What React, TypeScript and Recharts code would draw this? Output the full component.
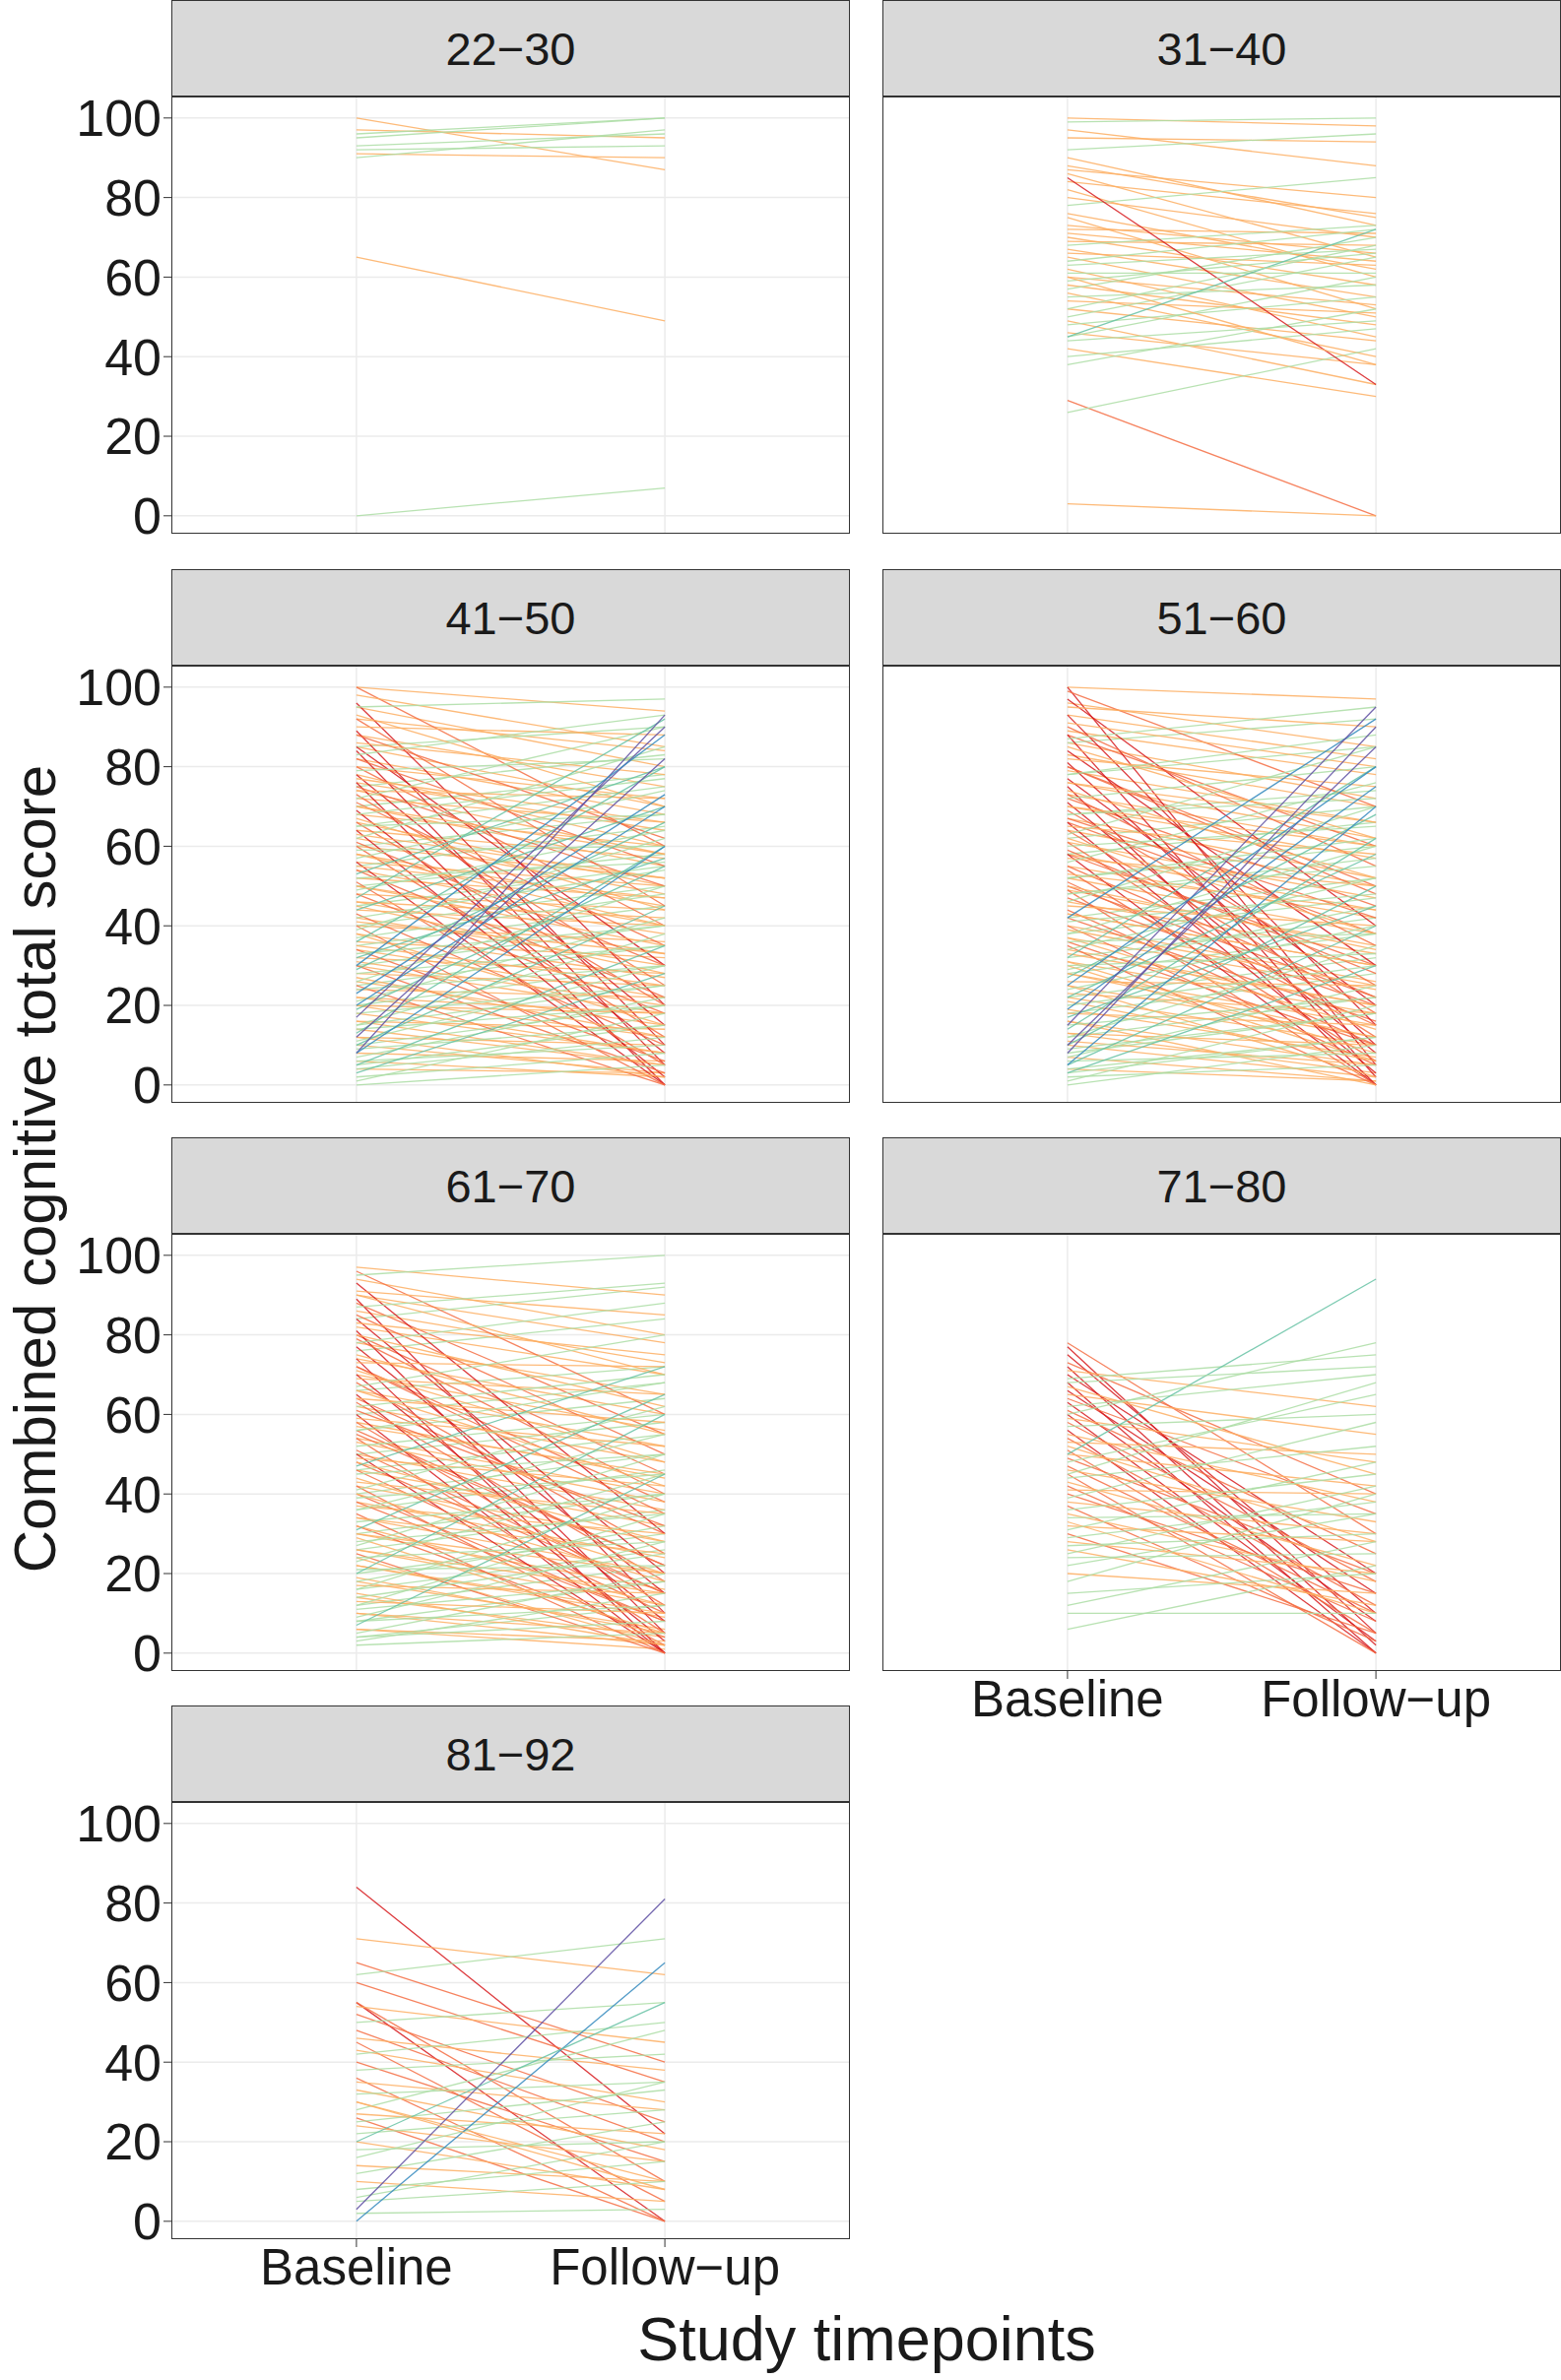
import React from "react";
import { LineChart, Line, XAxis, YAxis, CartesianGrid } from "recharts";

const p22: number[][] = [[100,87],[97,95],[96,100],[95,100],[93,96],[92,93],[91,90],[90,97],[65,49],[0,7]];
const p31: number[][] = [[100,98],[99,100],[97,88],[95,94],[92,96],[90,73],[88,75],[87,80],[86,65],[84,76],[82,60],[80,70],[78,85],[76,62],[75,52],[73,66],[72,71],[71,64],[70,58],[69,68],[68,73],[67,55],[66,63],[65,50],[64,72],[63,67],[62,45],[61,61],[60,53],[59,66],[58,48],[57,70],[56,40],[55,58],[54,51],[52,44],[50,65],[49,33],[48,55],[46,38],[45,60],[44,49],[42,30],[40,47],[38,52],[29,0],[26,42],[3,0],[85,33],[60,38],[45,72],[52,68]];
const p41: number[][] = [[100,94],[100,60],[98,85],[96,20],[95,97],[93,70],[92,45],[90,88],[89,10],[88,62],[86,78],[85,30],[84,5],[83,93],[82,55],[80,40],[79,82],[78,15],[77,66],[76,0],[75,50],[74,72],[73,25],[72,90],[71,35],[70,58],[69,8],[68,77],[67,44],[66,20],[65,68],[64,2],[63,52],[62,85],[61,30],[60,12],[59,60],[58,40],[57,74],[56,0],[55,47],[54,22],[53,80],[52,56],[51,5],[50,35],[49,64],[48,18],[47,92],[46,42],[45,28],[44,70],[43,10],[42,54],[41,33],[40,0],[39,62],[38,15],[37,48],[36,80],[35,25],[34,6],[33,40],[32,57],[31,20],[30,3],[29,66],[28,35],[27,12],[26,50],[25,0],[24,30],[23,73],[22,18],[21,42],[20,8],[19,55],[18,25],[17,90],[16,5],[15,38],[14,20],[13,60],[12,2],[11,30],[10,45],[9,15],[8,93],[7,22],[6,10],[5,35],[4,12],[3,28],[2,8],[1,18],[0,5],[12,82],[20,70],[8,60],[30,88]];
const p41b: number[][] = [[95,80],[92,84],[88,75],[85,70],[82,68],[80,72],[78,60],[76,64],[74,58],[72,66],[70,55],[68,60],[66,50],[64,57],[62,48],[60,52],[58,45],[56,50],[54,40],[52,47],[50,38],[48,44],[46,33],[44,40],[42,30],[40,36],[38,27],[36,32],[34,22],[32,28],[30,18],[28,25],[26,15],[24,22],[22,12],[20,18],[18,8],[16,14],[14,5],[12,10],[10,3],[8,6],[6,2],[4,3],[70,78],[60,68],[50,58],[40,50],[30,40],[20,30],[10,20],[55,65],[45,55],[35,45],[65,75],[75,83],[85,90],[25,35],[15,25],[5,15]];
const p51: number[][] = [[100,97],[100,5],[99,70],[97,40],[95,90],[93,15],[91,80],[90,55],[88,2],[87,95],[85,62],[84,30],[82,75],[81,10],[80,48],[78,88],[77,20],[76,66],[75,0],[74,52],[73,35],[72,80],[71,8],[70,60],[69,25],[68,72],[67,42],[66,3],[65,58],[64,18],[63,85],[62,38],[61,12],[60,65],[59,28],[58,0],[57,50],[56,76],[55,22],[54,6],[53,44],[52,62],[51,15],[50,34],[49,0],[48,55],[47,20],[46,70],[45,40],[44,10],[43,30],[42,92],[41,48],[40,5],[39,25],[38,60],[37,14],[36,38],[35,0],[34,52],[33,20],[32,80],[31,8],[30,33],[29,45],[28,12],[27,68],[26,25],[25,2],[24,40],[23,18],[22,58],[21,6],[20,30],[19,75],[18,15],[17,45],[16,0],[15,22],[14,62],[13,10],[12,35],[11,5],[10,50],[9,18],[8,90],[7,25],[6,8],[5,40],[4,12],[3,30],[2,5],[1,20],[0,10],[10,85],[5,70],[15,95],[25,80]];
const p51b: number[][] = [[96,85],[93,82],[89,78],[86,72],[83,70],[79,66],[76,62],[73,60],[70,57],[67,52],[64,50],[61,47],[58,44],[55,42],[52,38],[49,35],[46,33],[43,30],[40,26],[37,24],[34,20],[31,18],[28,15],[25,12],[22,10],[19,7],[16,5],[13,3],[10,2],[7,1],[4,1],[88,60],[80,50],[72,45],[66,38],[58,30],[50,22],[42,16],[36,10],[30,6],[68,74],[58,66],[48,57],[38,47],[28,38],[18,28],[8,18],[62,70],[52,60],[42,52],[32,42],[22,32],[12,22],[3,12],[78,85],[86,92]];
const p61: number[][] = [[97,90],[96,60],[95,100],[93,30],[91,85],[90,70],[89,10],[87,93],[85,50],[84,20],[83,75],[81,5],[80,62],[79,40],[78,88],[77,15],[75,55],[74,0],[73,72],[72,35],[71,48],[70,8],[69,65],[68,25],[67,80],[66,42],[65,3],[64,58],[63,18],[62,70],[61,32],[60,0],[59,52],[58,12],[57,45],[56,68],[55,22],[54,5],[53,38],[52,60],[51,15],[50,0],[49,42],[48,28],[47,72],[46,10],[45,50],[44,20],[43,35],[42,2],[41,62],[40,18],[39,45],[38,8],[37,30],[36,55],[35,0],[34,25],[33,40],[32,12],[31,65],[30,20],[29,5],[28,35],[27,50],[26,15],[25,0],[24,28],[23,45],[22,10],[21,22],[20,60],[19,5],[18,32],[17,15],[16,40],[15,2],[14,25],[13,10],[12,35],[11,18],[10,5],[9,28],[8,12],[7,45],[6,3],[5,20],[4,8],[3,15],[2,5]];
const p61b: number[][] = [[94,80],[90,78],[86,73],[82,70],[78,65],[74,60],[70,56],[66,52],[62,48],[58,44],[54,40],[50,36],[46,32],[42,28],[38,24],[34,20],[30,16],[26,12],[22,9],[18,6],[14,4],[10,2],[6,1],[88,55],[80,45],[72,38],[64,30],[56,22],[48,15],[40,8],[32,4],[24,2],[66,72],[56,64],[46,55],[36,46],[26,36],[16,26],[8,18],[60,68],[50,58],[40,50],[30,40],[20,30],[12,22],[4,12],[76,84],[84,92]];
const p71: number[][] = [[78,30],[77,5],[75,10],[73,40],[72,2],[71,62],[70,20],[69,75],[68,0],[67,45],[66,15],[65,55],[64,35],[63,8],[62,70],[61,25],[60,3],[59,48],[58,18],[57,60],[56,0],[55,38],[54,12],[53,50],[52,28],[51,5],[50,42],[49,20],[48,65],[47,10],[46,33],[45,0],[44,52],[43,22],[42,8],[41,40],[40,15],[39,58],[38,30],[37,3],[36,45],[35,18],[34,35],[33,10],[32,28],[31,48],[30,5],[29,38],[28,20],[27,30],[26,12],[25,42],[24,25],[22,35],[20,15],[18,40],[15,20],[12,28],[10,10],[6,22],[50,94],[60,78],[45,68],[68,72]];
const p81: number[][] = [[84,22],[71,62],[65,40],[62,71],[60,35],[55,0],[55,10],[54,45],[52,25],[50,55],[48,20],[46,38],[45,5],[43,30],[42,50],[40,15],[38,42],[36,0],[35,28],[33,18],[32,35],[30,10],[28,48],[27,22],[26,0],[25,33],[24,15],[22,28],[20,8],[18,20],[16,35],[14,10],[12,25],[10,5],[8,15],[6,20],[5,10],[3,81],[2,3],[0,65],[20,55],[30,8]];

const timepoints = ["Baseline", "Follow\u2212up"];
const yTicks = [0, 20, 40, 60, 80, 100];

function colorFor(d: number): string {
  if (d <= -50) return "#d7191c";
  if (d <= -25) return "#f46d43";
  if (d < 0) return "#fdae61";
  if (d < 25) return "#abdda4";
  if (d < 50) return "#66c2a5";
  if (d < 70) return "#3288bd";
  return "#5e4fa2";
}

const FONT = "'Liberation Sans', Arial, sans-serif";
const PW = 689, PH = 444, SH = 98, YW = 110, M = 30;

function Panel({ label, pairs, left, top, showX, showY }: { label: string; pairs: number[][]; left: number; top: number; showX: boolean; showY: boolean }) {
  return (
    <>
      <div style={{ position: "absolute", left, top, width: PW, height: SH, background: "#d9d9d9", border: "1.5px solid #333", boxSizing: "border-box", display: "flex", alignItems: "center", justifyContent: "center", fontSize: 47, fontFamily: FONT, color: "#1a1a1a" }}>{label}</div>
      <div style={{ position: "absolute", left: left - YW, top: top + SH - M }}>
        <LineChart width={PW + YW} height={PH + 2 * M + (showX ? 80 : 0)} margin={{ top: M, right: 0, left: 0, bottom: M }}>
          <CartesianGrid stroke="#ebebeb" strokeWidth={1.5} horizontalValues={yTicks} verticalValues={[1, 2]} />
          <XAxis type="number" dataKey="x" domain={[0.4, 2.6]} ticks={[1, 2]} allowDataOverflow hide={!showX} height={80} interval={0}
            tickFormatter={(v: number) => timepoints[v - 1]} tick={{ fontSize: 51, fill: "#1a1a1a", fontFamily: FONT }}
            axisLine={false} tickLine={{ stroke: "#333" }} tickSize={8} />
          <YAxis type="number" domain={[-4.5, 105.4]} ticks={yTicks} allowDataOverflow width={YW} interval={0}
            tick={showY ? { fontSize: 52, fill: "#1a1a1a", fontFamily: FONT } : false} axisLine={false}
            tickLine={showY ? { stroke: "#333" } : false} tickSize={8} />
          {pairs.map((p, i) => (
            <Line key={i} data={[{ x: 1, y: p[0] }, { x: 2, y: p[1] }]} dataKey="y" dot={false} activeDot={false}
              stroke={colorFor(p[1] - p[0])} strokeWidth={1.3} strokeOpacity={0.85} isAnimationActive={false} />
          ))}
        </LineChart>
      </div>
      <div style={{ position: "absolute", left, top: top + SH, width: PW, height: PH, border: "1.5px solid #333", boxSizing: "border-box", pointerEvents: "none" }} />
    </>
  );
}

export default function App() {
  const L1 = 174, L2 = 896;
  const rows = [0, 578, 1155, 1732];
  return (
    <div style={{ position: "absolute", left: 0, top: 0, width: 1585, height: 2417, background: "#fff", overflow: "hidden" }}>
      <Panel label="22−30" pairs={p22} left={L1} top={rows[0]} showX={false} showY={true} />
      <Panel label="31−40" pairs={p31} left={L2} top={rows[0]} showX={false} showY={false} />
      <Panel label="41−50" pairs={[...p41b, ...p41]} left={L1} top={rows[1]} showX={false} showY={true} />
      <Panel label="51−60" pairs={[...p51b, ...p51]} left={L2} top={rows[1]} showX={false} showY={false} />
      <Panel label="61−70" pairs={[...p61b, ...p61]} left={L1} top={rows[2]} showX={false} showY={true} />
      <Panel label="71−80" pairs={p71} left={L2} top={rows[2]} showX={true} showY={false} />
      <Panel label="81−92" pairs={p81} left={L1} top={rows[3]} showX={true} showY={true} />
      <div style={{ position: "absolute", left: 36, top: 1187, transform: "translate(-50%, -50%) rotate(-90deg)", whiteSpace: "nowrap", fontSize: 60, lineHeight: "66px", fontFamily: FONT, color: "#1a1a1a" }}>Combined cognitive total score</div>
      <div style={{ position: "absolute", left: 880, top: 2375, transform: "translate(-50%, -50%)", whiteSpace: "nowrap", fontSize: 63, fontFamily: FONT, color: "#1a1a1a" }}>Study timepoints</div>
    </div>
  );
}
